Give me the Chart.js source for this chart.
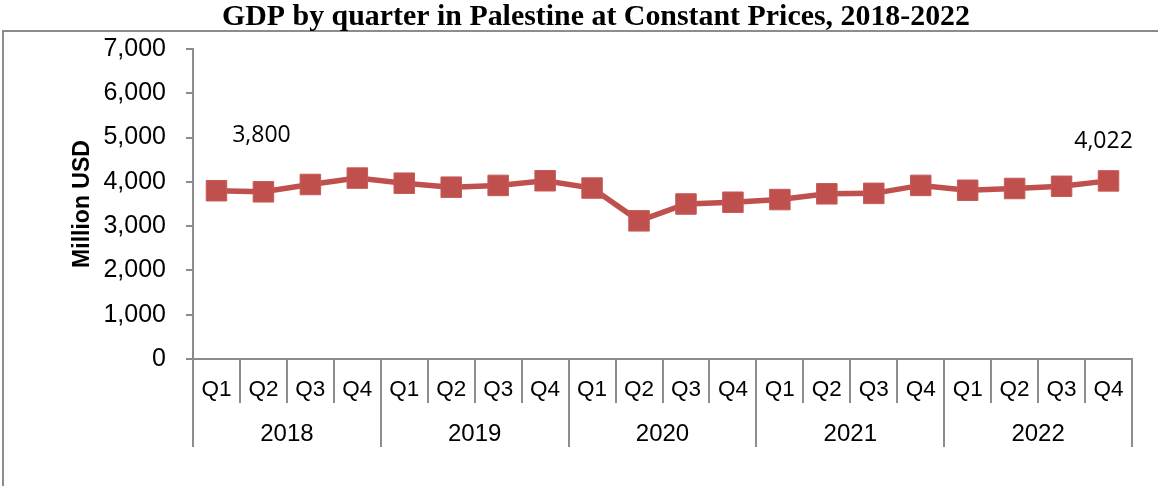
<!DOCTYPE html>
<html>
<head>
<meta charset="utf-8">
<script src="https://cdn.jsdelivr.net/npm/chart.js@4.4.0/dist/chart.umd.min.js"></script>
<style>
  html, body { margin: 0; padding: 0; background: #fff; }
  #wrap { width: 1158px; height: 486px; position: relative; }
</style>
</head>
<body>
<div id="wrap"><canvas id="c" width="1158" height="486"></canvas></div>
<script>
// ---- data ----
const chartTitle = "GDP by quarter in Palestine at Constant Prices, 2018-2022";
const yAxisTitle = "Million USD";
const quarters = ["Q1","Q2","Q3","Q4","Q1","Q2","Q3","Q4","Q1","Q2","Q3","Q4","Q1","Q2","Q3","Q4","Q1","Q2","Q3","Q4"];
const years = ["2018","2019","2020","2021","2022"];
const gdp = [3800, 3775, 3940, 4085, 3970, 3880, 3920, 4025, 3860, 3120, 3500, 3540, 3600, 3730, 3740, 3920, 3810, 3850, 3900, 4022];
const labelledPoints = [0, 19];           // indices that carry a value label
const yTicks = { min: 0, max: 7000, step: 1000 };

// ---- styles ----
const RED = "#C0504D";
const GRAY = "#8c8c8c";
const labelOffsets = { 0: [45, -55], 19: [-5, -39] };

const decorPlugin = {
  id: "decor",
  beforeDraw(chart) {
    const ctx = chart.ctx;
    ctx.save();
    ctx.fillStyle = "#fff";
    ctx.fillRect(0, 0, chart.width, chart.height);
    // outer frame (top and left edges visible)
    ctx.strokeStyle = GRAY;
    ctx.lineWidth = 2;
    ctx.beginPath();
    ctx.moveTo(3, chart.height);
    ctx.lineTo(3, 31);
    ctx.lineTo(chart.width, 31);
    ctx.stroke();
    // title (condensed bold serif)
    ctx.font = "bold 29px 'Liberation Serif', 'Times New Roman', serif";
    ctx.fillStyle = "#000";
    ctx.textBaseline = "alphabetic";
    const w = ctx.measureText(chartTitle).width;
    const target = 748;
    const sx = target / w;
    ctx.translate(596, 25);
    ctx.scale(sx, 1);
    ctx.textAlign = "center";
    ctx.fillText(chartTitle, 0, 0);
    ctx.restore();
  },
  afterDraw(chart) {
    const ctx = chart.ctx;
    const xs = chart.scales.x;
    const ys = chart.scales.y;
    const area = chart.chartArea;
    const step = xs.getPixelForValue(1) - xs.getPixelForValue(0);
    ctx.save();
    // year dividers and labels
    ctx.strokeStyle = GRAY;
    ctx.lineWidth = 2;
    const perYear = quarters.length / years.length;
    for (let k = 0; k <= years.length; k++) {
      const x = Math.round(xs.getPixelForValue(k * perYear) - step / 2);
      ctx.beginPath();
      ctx.moveTo(x, area.bottom);
      ctx.lineTo(x, 447);
      ctx.stroke();
    }
    ctx.fillStyle = "#000";
    ctx.font = "24px 'Liberation Sans', Arial, sans-serif";
    ctx.textAlign = "center";
    ctx.textBaseline = "middle";
    years.forEach((yr, k) => {
      const a = xs.getPixelForValue(k * perYear) - step / 2;
      const b = xs.getPixelForValue((k + 1) * perYear) - step / 2;
      ctx.fillText(yr, (a + b) / 2, 434);
    });
    // data labels
    ctx.font = "23px 'Open Sans', 'Noto Sans', sans-serif";
    labelledPoints.forEach(i => {
      const px = xs.getPixelForValue(i);
      const py = ys.getPixelForValue(gdp[i]);
      const off = labelOffsets[i];
      ctx.fillText(gdp[i].toLocaleString("en-US"), px + off[0], py + off[1]);
    });
    ctx.restore();
  }
};

new Chart(document.getElementById("c"), {
  type: "line",
  data: {
    labels: quarters,
    datasets: [{
      data: gdp,
      borderColor: RED,
      backgroundColor: RED,
      borderWidth: 5.5,
      pointStyle: "rect",
      pointRadius: 14.5,
      pointHoverRadius: 14.5,
      pointBackgroundColor: RED,
      pointBorderColor: "#c55a57",
      pointBorderWidth: 1,
      tension: 0,
      fill: false
    }]
  },
  options: {
    responsive: false,
    animation: false,
    locale: "en-US",
    layout: { padding: { top: 49, right: 26, left: 0, bottom: 0 } },
    plugins: { legend: { display: false }, title: { display: false }, tooltip: { enabled: false } },
    scales: {
      x: {
        type: "category",
        offset: true,
        afterFit(s) { s.height = 127; },
        border: { display: true, color: GRAY, width: 2 },
        grid: { offset: true, drawOnChartArea: false, drawTicks: true, tickLength: 44, color: GRAY, lineWidth: 2 },
        ticks: { color: "#000", padding: -27, maxRotation: 0, autoSkip: false,
                 font: { family: "'Liberation Sans', Arial, sans-serif", size: 22.5 } }
      },
      y: {
        min: yTicks.min, max: yTicks.max,
        afterFit(s) { s.width = 193; },
        border: { display: true, color: GRAY, width: 2 },
        grid: { drawOnChartArea: false, drawTicks: true, tickLength: 7, color: GRAY, lineWidth: 2 },
        ticks: { stepSize: yTicks.step, color: "#000", padding: 20,
                 font: { family: "'Liberation Sans', Arial, sans-serif", size: 25 } },
        title: { display: true, text: yAxisTitle, color: "#000", padding: { top: 69 },
                 font: { family: "'Liberation Sans', Arial, sans-serif", size: 23, weight: "bold" } }
      }
    }
  },
  plugins: [decorPlugin]
});
</script>
</body>
</html>
